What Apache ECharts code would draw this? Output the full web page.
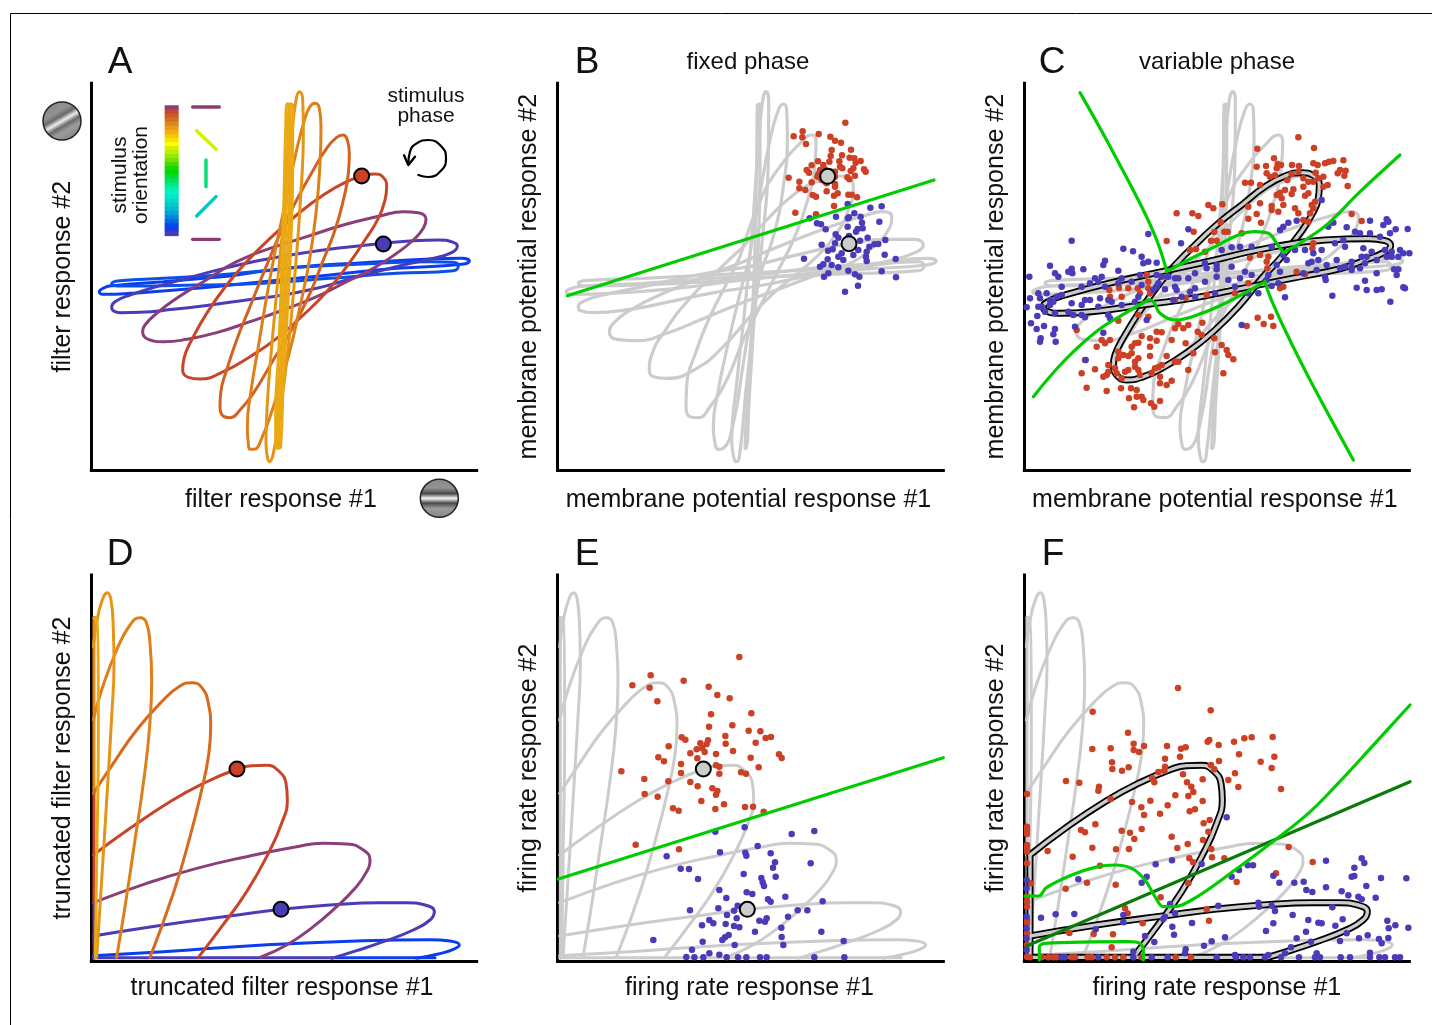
<!DOCTYPE html>
<html><head><meta charset="utf-8"><style>html,body{margin:0;padding:0;background:#fff}#c{width:1432px;height:1025px}</style>
<script src="https://cdn.jsdelivr.net/npm/echarts@6/dist/echarts.min.js"></script></head><body><div id="c"></div>
<script>
// ---- panel A: filter responses, one closed loop per stimulus orientation
const aBlue1=[[208,785],[225,772],[250,767],[400,755],[600,738],[800,712],[1000,698],[1200,687],[1295,685],[1318,693],[1295,703],[1100,715],[900,735],[700,755],[500,775],[300,790],[225,793]];
const aBlue2=[[245,760],[270,752],[400,745],[600,732],[800,712],[1000,702],[1200,695],[1270,697],[1285,708],[1270,722],[1100,730],[900,745],[700,760],[500,765],[300,768],[260,768]];
const aIndigo=[[245,832],[255,815],[300,795],[380,770],[470,745],[570,718],[680,693],[800,672],[920,655],[1060,640],[1150,632],[1225,630],[1270,637],[1282,648],[1265,668],[1200,687],[1120,705],[1030,728],[950,750],[860,775],[760,795],[650,810],[540,825],[430,838],[330,847],[270,848]];
const aPlum=[[338,905],[345,885],[380,850],[440,805],[520,755],[620,695],[720,655],[830,620],[940,585],[1050,558],[1120,545],[1165,548],[1188,568],[1180,595],[1150,630],[1100,670],[1030,715],[950,755],[860,800],[760,840],[660,875],[560,908],[470,928],[400,935],[355,928]];
const aRed=[[458,1020],[462,985],[485,930],[530,850],[590,765],[650,695],[720,625],[800,555],[880,495],[950,455],[995,440],[1035,432],[1058,440],[1070,470],[1065,510],[1045,565],[1005,630],[950,710],[890,785],[820,855],[740,925],[660,980],[580,1025],[510,1047],[475,1042]];
const aOrange1=[[570,1130],[572,1090],[590,1020],[620,930],[660,830],[700,730],[750,610],[800,510],[850,420],[890,355],[920,322],[940,315],[952,330],[958,370],[955,430],[940,510],[915,600],[880,690],[840,790],[790,890],[730,990],[670,1090],[630,1140],[600,1163],[582,1160]];
const aOrange2=[[655,1240],[652,1190],[665,1070],[685,950],[710,800],[740,640],[770,500],[800,360],[825,265],[840,230],[855,220],[868,235],[873,290],[870,400],[860,530],[840,680],[810,830],[775,980],[730,1130],[695,1225],[672,1258],[660,1258]];
const aOrange3=[[712,1280],[708,1240],[712,1120],[725,950],[745,730],[765,530],[785,320],[798,210],[808,185],[818,205],[820,300],[812,500],[795,730],[775,950],[750,1150],[730,1270],[718,1295]];
const aYellow=[[745,1255],[745,1150],[755,950],[762,750],[770,500],[775,300],[780,222],[788,225],[788,400],[782,650],[772,850],[760,1050],[752,1250]];
// ---- panel B/C: membrane potential loops (grey)
const bLoop1=[[168,785],[185,775],[220,768],[400,760],[600,745],[740,735],[900,715],[1100,700],[1255,685],[1278,693],[1250,705],[1050,718],[850,735],[700,750],[500,775],[300,790],[185,793]];
const bLoop2=[[205,760],[225,752],[400,745],[600,735],[800,725],[1000,715],[1225,695],[1243,708],[1225,722],[1000,732],[800,740],[600,755],[400,765],[225,768]];
const bLoop3=[[205,830],[225,812],[280,795],[400,770],[560,735],[720,710],[880,670],[1020,640],[1130,628],[1215,628],[1240,645],[1215,668],[1130,695],[1020,722],[900,738],[760,765],[600,790],[480,815],[360,838],[250,848],[212,842]];
const bLoop4=[[298,905],[310,880],[370,835],[460,790],[570,745],[700,695],[830,640],[960,590],[1060,558],[1120,545],[1145,560],[1135,600],[1090,650],[1020,700],[920,735],[800,780],[680,825],[570,870],[470,910],[380,932],[320,928]];
const bLoop5=[[418,1020],[425,975],[470,895],[540,805],[620,725],[700,650],[770,570],[850,495],[920,455],[985,438],[1020,445],[1030,480],[1015,540],[980,610],[920,680],[850,740],[790,790],[720,860],[640,950],[560,1015],[470,1045],[430,1040]];
const bLoop6=[[528,1130],[530,1070],[560,960],[600,860],[650,760],[690,680],[760,490],[810,410],[870,340],[905,315],[918,335],[915,400],[890,520],[850,630],[800,730],[750,830],[700,930],[650,1050],[600,1130],[565,1163],[540,1160]];
const bLoop7=[[615,1240],[610,1190],[625,1080],[650,960],[690,790],[715,700],[745,520],[780,330],[805,240],[820,222],[830,240],[832,320],[820,470],[790,620],[755,720],[725,850],[700,1000],[670,1180],[640,1255],[625,1258]];
const bLoop8=[[672,1285],[665,1230],[680,1060],[700,880],[725,620],[745,350],[758,210],[768,185],[776,210],[775,380],[755,650],[730,880],[708,1080],[688,1280],[678,1295]];
const bLoop9=[[705,1255],[712,1100],[725,900],[735,650],[740,400],[742,225],[750,222],[750,400],[745,650],[730,900],[718,1100],[708,1255]];
const bBoundary=[[172,797],[1272,450]];
const bRedDots=[[1006,278],[878,304],[851,319],[877,322],[926,312],[961,320],[975,332],[993,338],[888,342],[965,360],[1023,359],[962,378],[996,376],[1019,383],[1033,385],[1052,393],[1037,398],[988,394],[958,395],[924,394],[905,406],[890,420],[897,428],[990,410],[997,415],[1030,415],[1062,418],[1067,425],[1022,423],[1035,437],[1012,442],[1018,448],[836,443],[868,455],[922,440],[905,457],[935,450],[975,440],[950,460],[975,462],[868,475],[886,480],[950,484],[975,470],[983,490],[972,497],[908,495],[918,500],[1015,494],[1025,494],[1041,502],[972,528],[856,548],[918,553],[940,405],[930,420],[945,418],[965,425],[925,432],[975,425],[945,455]];
const bBlueDots=[[1013,522],[1081,533],[1115,529],[1033,550],[978,560],[1017,562],[1052,560],[1014,565],[1108,575],[899,565],[921,580],[933,583],[1056,578],[1013,590],[1058,595],[947,598],[1043,597],[1038,605],[977,613],[1073,623],[1126,630],[1017,618],[985,623],[935,644],[975,640],[1050,632],[1105,642],[1093,643],[1078,650],[968,658],[954,662],[1005,645],[1030,675],[1045,660],[1070,665],[1124,674],[1068,680],[1157,687],[882,686],[995,670],[985,680],[953,688],[1000,690],[1070,693],[940,703],[930,710],[965,705],[985,712],[1115,724],[1015,722],[955,730],[942,740],[1035,733],[1048,740],[1158,742],[1044,767],[1005,785]];
// ---- panel C
const cTube1=[[415,1005],[420,975],[450,915],[500,835],[550,765],[600,705],[660,645],[730,580],[800,525],[870,470],[930,438],[980,428],[1015,437],[1033,465],[1030,505],[1010,555],[975,610],[920,680],[860,745],[790,830],[720,900],[640,965],[560,1015],[500,1042],[455,1050],[425,1035]];
const cTube2=[[205,830],[225,812],[270,795],[400,760],[560,725],[720,690],[900,650],[1050,630],[1180,626],[1230,632],[1247,647],[1225,668],[1170,690],[1100,715],[950,745],[800,775],[650,805],[500,825],[350,845],[250,850],[212,842]];
const cGreen1a=[[315,188],[400,340],[500,530],[545,630],[575,722]];
const cGreen1b=[[575,725],[640,690],[720,650],[790,615],[840,605],[880,610],[905,640],[925,668]];
const cGreen1c=[[925,668],[990,630],[1060,580],[1150,490],[1275,375]];
const cGreen2a=[[175,1100],[270,990],[370,900],[450,850],[520,810]];
const cGreen2b=[[520,810],[535,815],[555,850],[600,870],[680,850],[770,810],[870,755]];
const cGreen2c=[[870,755],[885,800],[930,900],[1000,1040],[1135,1290]];
const cRedDots=[[970,322],[847,356],[1017,354],[897,385],[1105,391],[1075,393],[1062,395],[1050,400],[1015,400],[1028,405],[908,402],[918,405],[972,408],[951,405],[845,410],[873,408],[905,415],[1095,420],[1112,422],[1088,430],[1022,428],[970,425],[950,432],[875,430],[885,440],[900,436],[1108,437],[1045,440],[1030,445],[937,450],[985,445],[1000,455],[1015,455],[810,458],[828,458],[1058,465],[1118,468],[855,465],[1045,470],[985,470],[930,480],[955,478],[915,488],[950,492],[1000,490],[990,497],[1020,515],[905,495],[855,520],[920,505],[925,525],[1010,525],[700,525],[742,523],[890,528],[715,535],[1015,535],[890,540],[960,535],[820,530],[605,550],[652,550],[670,558],[845,552],[1005,550],[970,550],[1130,552],[910,545],[820,566],[858,578],[737,577],[985,570],[1160,573],[1000,575],[800,610],[656,605],[718,606],[748,605],[758,605],[575,633],[708,632],[725,632],[1015,640],[1012,655],[690,665],[645,660],[663,658],[855,675],[880,680],[875,695],[825,683],[877,715],[965,725],[990,732],[515,735],[575,740],[520,755],[820,760],[403,780],[432,773],[460,775],[488,775],[520,775],[495,790],[925,770],[915,775],[600,810],[632,803],[695,795],[780,790],[525,790],[440,800],[405,800],[490,855],[430,872],[520,860],[610,882],[640,885],[682,878],[848,863],[888,860],[866,882],[895,888],[815,888],[305,900],[545,905],[560,907],[600,895],[625,895],[668,905],[680,915],[500,918],[525,925],[480,940],[490,938],[545,932],[590,930],[718,925],[632,940],[740,945],[405,930],[380,930],[390,940],[365,950],[470,950],[525,950],[755,960],[720,967],[760,975],[430,965],[470,970],[655,970],[445,975],[460,978],[775,988],[575,978],[525,978],[490,985],[330,990],[480,995],[560,1005],[600,995],[610,995],[400,1005],[420,1015],[360,1018],[320,1030],[460,1020],[490,1020],[540,1015],[550,1012],[640,1020],[745,1030],[395,1035],[385,1040],[440,1045],[495,1035],[555,1040],[590,1052],[335,1073],[555,1060],[575,1065],[438,1075],[468,1075],[395,1083],[485,1080],[462,1105],[485,1100],[500,1100],[505,1110],[555,1113],[528,1120],[538,1130],[477,1132],[425,1030],[450,1025],[480,1010],[530,1030],[430,985],[400,1025]];
const cBlueDots=[[290,632],[445,656],[474,664],[520,612],[640,598],[618,640],[500,680],[390,692],[385,705],[325,718],[290,716],[280,725],[292,730],[225,707],[240,730],[250,740],[163,740],[380,740],[360,745],[370,755],[430,722],[505,700],[520,695],[545,698],[495,735],[600,745],[610,745],[640,745],[695,715],[725,705],[725,718],[770,710],[760,750],[830,735],[795,745],[810,725],[740,660],[770,652],[795,650],[830,650],[890,650],[915,600],[925,590],[940,578],[965,572],[1040,510],[1075,578],[1060,590],[1115,592],[1140,605],[1155,610],[1185,572],[1225,585],[1235,568],[1240,575],[1245,610],[1262,598],[1298,597],[1185,610],[1215,620],[1105,630],[1080,640],[1110,650],[1165,655],[1190,665],[1230,660],[1250,665],[1275,660],[1303,670],[1285,670],[1270,680],[1250,680],[1235,680],[1175,680],[1160,680],[1130,695],[1110,710],[1095,715],[1055,705],[1030,690],[1010,695],[990,660],[960,660],[925,675],[935,690],[905,705],[915,725],[880,735],[890,768],[930,802],[1050,740],[1052,750],[1072,797],[1145,773],[1170,752],[1175,780],[1205,780],[1220,778],[1246,815],[1285,772],[1290,775],[1257,718],[1270,718],[1265,735],[1205,730],[1155,715],[1130,720],[1025,720],[985,730],[1000,700],[155,832],[165,805],[190,790],[195,805],[215,790],[245,800],[260,795],[225,810],[235,815],[190,830],[200,830],[210,845],[225,825],[240,850],[187,858],[168,880],[185,897],[207,888],[240,897],[235,913],[197,925],[195,935],[242,935],[300,890],[295,855],[320,855],[330,862],[320,825],[290,820],[280,845],[330,810],[345,810],[375,805],[370,830],[400,810],[410,815],[440,825],[400,855],[405,865],[260,770],[320,770],[345,760],[390,770],[430,760],[440,745],[470,755],[500,765],[545,735],[560,740],[580,740],[600,770],[605,780],[645,785],[660,775],[570,778],[545,770],[535,780],[550,760],[595,810],[620,800],[660,800],[490,800],[480,815],[385,908],[332,990],[515,870],[800,885],[690,755],[720,790],[780,770],[820,790],[875,750],[850,790],[910,760],[690,700],[725,740],[660,730],[1085,690],[1130,712],[1170,700],[1205,690],[1015,670],[1040,660]];
// ---- panel D: truncated responses, open arcs from axis to axis
const dBlue=[[190,1277],[400,1265],[700,1245],[1000,1232],[1200,1229],[1260,1233],[1288,1245],[1270,1258],[1225,1272],[1160,1285]];
const dIndigo=[[190,1218],[400,1185],[600,1158],[753,1138],[900,1125],[1050,1118],[1130,1118],[1185,1125],[1213,1145],[1200,1170],[1150,1200],[1060,1235],[980,1262],[905,1285]];
const dPlum=[[190,1118],[350,1060],[500,1015],[650,980],[800,950],[880,940],[950,942],[1000,960],[1020,990],[1010,1025],[975,1075],[920,1130],[850,1190],[770,1245],[690,1282]];
const dRed=[[190,975],[300,895],[420,815],[520,760],[621,717],[665,707],[710,706],[745,722],[768,760],[772,810],[755,880],[715,970],[650,1085],[575,1190],[505,1282]];
const dOrange1=[[190,790],[250,700],[320,600],[400,510],[450,468],[485,458],[515,472],[535,520],[542,590],[535,680],[515,780],[480,920],[430,1090],[360,1282]];
const dOrange2=[[190,570],[215,480],[260,360],[300,285],[330,263],[348,275],[360,340],[365,450],[358,600],[340,760],[315,930],[285,1130],[260,1282]];
const dOrange3=[[190,350],[200,280],[215,215],[232,188],[243,210],[250,300],[252,400],[245,560],[232,780],[215,1050],[200,1282]];
const dYellow=[[192,265],[198,262],[205,600],[200,1000],[196,1282]];
const dBottomIndigo=[[190,1283],[905,1283]];
const dBottomBlue=[[905,1283],[1215,1283]];
const dLeftOrange=[[192,262],[192,790]];
const dLeftRed=[[192,790],[192,1118]];
const dLeftPlum=[[192,1118],[192,1285]];
// ---- panel E
const eBoundary=[[145,1047],[1300,683]];
const eRedDots=[[688,381],[422,436],[367,466],[419,473],[521,452],[596,470],[622,495],[659,505],[442,514],[724,550],[603,553],[667,586],[597,590],[716,602],[751,604],[646,618],[783,621],[767,624],[515,622],[526,629],[594,631],[571,640],[590,642],[647,641],[737,638],[476,649],[560,658],[577,654],[584,666],[669,663],[541,670],[618,672],[807,673],[815,684],[445,682],[722,683],[462,694],[562,685],[513,702],[618,706],[628,710],[746,712],[334,724],[513,729],[628,731],[693,727],[708,731],[403,747],[475,754],[541,756],[563,769],[607,775],[622,783],[618,794],[404,792],[443,800],[574,813],[642,823],[705,831],[729,830],[489,835],[506,842],[616,837],[761,845],[377,944],[507,958]];
const eBlueDots=[[704,892],[913,903],[616,905],[845,912],[743,948],[630,967],[706,968],[709,977],[782,970],[470,979],[795,997],[902,1000],[789,1013],[512,1016],[537,1017],[701,1032],[797,1040],[564,1047],[754,1044],[758,1057],[762,1068],[628,1080],[710,1087],[727,1092],[649,1104],[826,1100],[774,1108],[782,1115],[938,1114],[625,1135],[540,1141],[683,1127],[672,1142],[863,1141],[892,1141],[651,1155],[680,1165],[834,1160],[748,1172],[770,1165],[765,1175],[598,1170],[610,1180],[647,1182],[576,1186],[672,1188],[688,1192],[814,1193],[735,1205],[934,1205],[656,1215],[645,1222],[637,1230],[815,1221],[578,1235],[430,1230],[1001,1233],[674,1245],[820,1245],[546,1259],[598,1270],[628,1274],[529,1281],[553,1282],[580,1282],[650,1282],[684,1282],[709,1282],[750,1282],[770,1282],[913,1282],[1003,1282]];
// ---- panel F
const fLinear=[[155,1248],[1305,755]];
const fGreenUpper=[[1305,525],[1200,640],[1080,770],[1000,850],[900,930],[780,1020],[650,1110],[590,1130],[565,1130],[540,1100],[510,1050],[470,1015],[420,1005],[360,1012],[290,1035],[215,1072],[190,1098],[150,1098]];
const fGreenLower=[[193,1290],[193,1250],[210,1240],[460,1235],[495,1240],[505,1260],[505,1290]];
const fEdge2=[[165,1282],[880,1282]];
const fEdge3=[[165,975],[165,1282]];
const fRedDots=[[609,474],[707,541],[353,545],[459,608],[893,621],[830,622],[808,625],[703,630],[698,635],[777,635],[476,641],[507,648],[731,645],[576,648],[632,652],[618,656],[352,657],[407,655],[476,660],[492,666],[615,680],[570,686],[898,680],[792,673],[732,693],[857,695],[411,697],[708,705],[890,714],[412,717],[441,722],[461,712],[570,710],[718,718],[550,726],[568,722],[624,733],[780,730],[273,753],[313,758],[532,745],[538,757],[760,750],[683,748],[636,757],[372,770],[370,782],[649,770],[918,777],[790,771],[156,792],[655,786],[640,798],[601,796],[407,807],[526,812],[471,816],[683,813],[499,832],[578,826],[660,838],[644,844],[555,851],[507,855],[704,870],[686,880],[361,883],[156,890],[156,900],[318,900],[330,907],[440,902],[465,908],[500,897],[700,905],[156,912],[590,920],[478,927],[684,930],[638,942],[607,954],[352,953],[462,957],[423,958],[709,957],[156,945],[156,955],[156,965],[218,963],[293,980],[643,985],[711,982],[748,985],[941,951],[1013,996],[654,997],[156,1000],[375,1007],[903,1030],[785,1056],[336,1058],[422,1064],[640,1060],[168,1060],[272,1076],[156,1100],[156,1115],[156,1130],[557,1102],[450,1135],[458,1150],[695,1138],[702,1172],[503,1180],[156,1170],[156,1180],[283,1209],[356,1212],[414,1213],[410,1252],[156,1210],[156,1245],[156,1280],[165,1282],[200,1282],[220,1282],[235,1282],[245,1282],[290,1282],[300,1282],[338,1282],[350,1282],[395,1282],[420,1282],[445,1282],[500,1282],[602,1282],[648,1282]];
const fBlueDots=[[755,862],[1160,985],[1168,999],[1053,992],[542,1003],[591,991],[680,1002],[792,1020],[818,1006],[834,1006],[1138,1013],[1130,1040],[1138,1038],[895,1037],[770,1040],[1218,1044],[1294,1045],[310,1048],[515,1040],[500,1058],[913,1058],[958,1058],[986,1055],[155,1050],[155,1075],[1174,1068],[1053,1072],[994,1080],[1012,1086],[1100,1084],[1120,1096],[1150,1100],[1202,1103],[1160,1108],[850,1118],[585,1122],[730,1127],[890,1127],[852,1130],[1072,1132],[900,1143],[445,1155],[600,1150],[198,1163],[242,1153],[298,1152],[570,1160],[565,1167],[953,1155],[1000,1170],[1103,1168],[1030,1178],[1040,1180],[1237,1172],[651,1179],[895,1180],[445,1177],[592,1190],[1081,1187],[1241,1195],[1261,1186],[1300,1193],[362,1198],[873,1203],[993,1205],[597,1214],[1115,1210],[1178,1216],[510,1218],[750,1222],[965,1225],[1152,1225],[1240,1224],[1212,1227],[1008,1235],[1095,1233],[538,1236],[710,1234],[1220,1240],[687,1247],[632,1258],[948,1252],[630,1270],[1185,1268],[155,1160],[155,1195],[155,1225],[155,1260],[260,1282],[270,1282],[370,1282],[475,1265],[475,1282],[530,1282],[578,1282],[725,1282],[780,1275],[783,1282],[805,1282],[825,1282],[870,1282],[880,1275],[918,1282],[930,1270],[972,1282],[1020,1282],[1025,1270],[1035,1282],[1097,1282],[1125,1282],[1185,1282],[1213,1282],[1230,1282],[1260,1282],[1275,1282]];
// ---- inset key in panel A
const barColors=['#8a3f74','#c8452a','#cc5a26','#d27026','#dd8620','#e89a18','#eeb010','#f4c808','#fae000','#ffff00','#d8f000','#b8ee00','#98e800','#70e000','#40d800','#10d800','#00d800','#00dc30','#00e060','#00e888','#00f0b0','#00f0c8','#00e8c8','#00d8c8','#00c8c8','#00b8d0','#00a0d8','#0088e0','#0068e8','#0048f0','#2038e0','#4a3cb8'];
const keyBars=[{c:'#8a3f74',p:[[488,231],[568,231]]},{c:'#d4f000',p:[[500,302],[558,358]]},{c:'#00e070',p:[[528,390],[528,470]]},{c:'#00c8c8',p:[[558,500],[500,558]]},{c:'#8a3f74',p:[[488,628],[568,628]]}];
const phaseArc=[[1135,402],[1140,365],[1160,340],[1195,330],[1235,350],[1248,385],[1235,420],[1195,441],[1165,435]];
const phaseHead=[[1122,376],[1135,405],[1155,380]];

const RED='#cc4125',BLUE='#4a3cb8',GREY='#cccccc',GREEN='#00cc00';
const panels=[
 {ox:30,oy:30,x0:184,x1:1340,y0:160,y1:1320,xn:'filter response #1',yn:'filter response #2',xg:18,yg:16,xp:6},
 {ox:510,oy:30,x0:143,x1:1300,y0:160,y1:1320,xn:'membrane potential response #1',yn:'membrane potential response #2',xg:18,yg:16,xp:4},
 {ox:975,oy:30,x0:148,x1:1303,y0:160,y1:1320,xn:'membrane potential response #1',yn:'membrane potential response #2',xg:18,yg:16,xp:4},
 {ox:30,oy:530,x0:184,x1:1340,y0:135,y1:1293,xn:'truncated filter response #1',yn:'truncated filter response #2',xg:15,yg:16,xp:4},
 {ox:510,oy:530,x0:143,x1:1300,y0:135,y1:1293,xn:'firing rate response #1',yn:'firing rate response #2',xg:15,yg:16,xp:2},
 {ox:975,oy:530,x0:148,x1:1303,y0:135,y1:1293,xn:'firing rate response #1',yn:'firing rate response #2',xg:15,yg:16,xp:0}
];
const FONT='"Liberation Sans",Arial,sans-serif';
const axisLine={show:true,onZero:false,lineStyle:{color:'#000',width:3,cap:'square'}};
const grid=panels.map(p=>({left:p.ox+p.x0/3,top:p.oy+p.y0/3,width:(p.x1-p.x0)/3,height:(p.y1-p.y0)/3,containLabel:false}));
const xAxis=panels.map((p,i)=>({type:'value',gridIndex:i,min:p.x0,max:p.x1,position:'bottom',axisLine,axisTick:{show:false},axisLabel:{show:false},splitLine:{show:false},name:p.xn,nameLocation:'middle',nameGap:p.xg,nameTextStyle:{fontFamily:FONT,fontSize:25,color:'#111',verticalAlign:'top',padding:[0,p.xp,0,0]}}));
const yAxis=panels.map((p,i)=>({type:'value',gridIndex:i,inverse:true,min:p.y0,max:p.y1,position:'left',axisLine,axisTick:{show:false},axisLabel:{show:false},splitLine:{show:false},name:p.yn,nameLocation:'middle',nameGap:p.yg,nameTextStyle:{fontFamily:FONT,fontSize:25,color:'#111',verticalAlign:'bottom'}}));

const series=[];
const closed=a=>{const k=Math.floor(a.length/4);const r=a.slice(k).concat(a.slice(0,k));r.push(r[0]);return r;};
const shift=(a,dx)=>a.map(([x,y])=>[x+dx,y]);
const startAt=(a,x)=>[[x,a[0][1]],...a.slice(1)];
function line(g,data,color,width,smooth=0.5,z=3){series.push({type:'line',xAxisIndex:g,yAxisIndex:g,data,smooth,symbol:'none',silent:true,clip:false,z,lineStyle:{color,width,cap:'round',join:'round'},animation:false});}
function dots(g,data,color,size=6.5,z=4){series.push({type:'scatter',xAxisIndex:g,yAxisIndex:g,data,symbol:'circle',symbolSize:size,silent:true,clip:false,z,itemStyle:{color,opacity:1},animation:false});}
function big(g,pt,color){series.push({type:'scatter',xAxisIndex:g,yAxisIndex:g,data:[pt],symbol:'circle',symbolSize:15,silent:true,clip:false,z:7,itemStyle:{color,borderColor:'#000',borderWidth:2,opacity:1},animation:false});}
function gabor(pt,x,y,x2,y2,d,l){series.push({type:'scatter',xAxisIndex:0,yAxisIndex:0,data:[pt],symbol:'circle',symbolSize:38,silent:true,clip:false,z:3,itemStyle:{opacity:1,borderColor:'#222',borderWidth:1.5,color:{type:'linear',x,y,x2,y2,colorStops:[{offset:0,color:'#8a8a8a'},{offset:.24,color:'#929292'},{offset:.38,color:d},{offset:.5,color:l},{offset:.62,color:d},{offset:.76,color:'#9c9c9c'},{offset:1,color:'#868686'}]}},animation:false});}

// A
[[aBlue1,'#0a3cf0'],[aBlue2,'#0c50e6'],[aIndigo,'#4a3cb8'],[aPlum,'#8a3f78'],[aRed,'#c8452a'],[aOrange1,'#d2621f'],[aOrange2,'#df7f1a'],[aOrange3,'#e59416'],[aYellow,'#eaa812']].forEach(([d,c])=>line(0,closed(d),c,3));
line(0,closed(shift(aYellow,-8)),'#eaa812',3);
big(0,[995,438],RED);big(0,[1060,642],BLUE);
series.push({type:'scatter',xAxisIndex:0,yAxisIndex:0,data:barColors.map((c,i)=>({value:[425,233+i*12.2],itemStyle:{color:c,opacity:1}})),symbol:'rect',symbolSize:[14,4.8],silent:true,clip:false,z:3,animation:false});
keyBars.forEach(k=>line(0,k.p,k.c,3.4,false));
line(0,phaseArc,'#000',2.2,0.5);line(0,phaseHead,'#000',2.4,false);
gabor([96,273],0.25,0.07,0.75,0.93,'#6a6a6a','#ececec');gabor([1228,1405],0,0,0,1,'#4a4a4a','#f4f4f4');
// B and C grey loops
const bLoops=[bLoop1,bLoop2,bLoop3,bLoop4,bLoop5,bLoop6,bLoop7,bLoop8,bLoop9];
bLoops.forEach(d=>line(1,closed(d),GREY,3.2));
dots(1,bRedDots,RED);dots(1,bBlueDots,BLUE);
line(1,bBoundary,GREEN,3.2,false,5);
big(1,[953,439],GREY);big(1,[1017,641],GREY);
bLoops.forEach(d=>line(2,closed(shift(d,5)),GREY,3.2));
[cTube1,cTube2].forEach(d=>{line(2,closed(d),'#000',7,0.5,3);line(2,closed(d),GREY,3.4,0.5,3);});
dots(2,cRedDots,RED);dots(2,cBlueDots,BLUE);
[cGreen1a,cGreen1b,cGreen1c,cGreen2a,cGreen2b,cGreen2c].forEach(d=>line(2,d,GREEN,3.2,0.4,5));
// D
const dArcs=[dBlue,dIndigo,dPlum,dRed,dOrange1,dOrange2,dOrange3,dYellow];
const dColors=['#0a3cf0','#4a3cb8','#8a3f78','#c8452a','#d8691e','#df7f1a','#e59416','#eaa812'];
[[dBottomBlue,'#0a3cf0'],[dBottomIndigo,'#4a3cb8'],[dLeftOrange,'#e08a1a'],[dLeftRed,'#c8452a'],[dLeftPlum,'#6a3c98']].forEach(([d,c])=>line(3,d,c,3,false));
dArcs.forEach((d,i)=>line(3,d,dColors[i],3));
big(3,[621,717],RED);big(3,[753,1138],BLUE);
// E
const grayD=(g,dx)=>{dArcs.forEach(d=>line(g,shift(d,dx),GREY,3));[dBottomBlue,dBottomIndigo,dLeftOrange,dLeftRed,dLeftPlum].forEach(d=>line(g,shift(d,dx),GREY,3,false));};
grayD(4,-41);
dots(4,eRedDots,RED);dots(4,eBlueDots,BLUE);
line(4,eBoundary,GREEN,3.2,false,5);
big(4,[580,717],GREY);big(4,[712,1138],GREY);
// F
grayD(5,-36);
const fTubes=[[startAt(shift(dRed,-30),165),0.5],[startAt(shift(dIndigo,-36),165),0.5],[fEdge2,false],[fEdge3,false]];
fTubes.forEach(([d,s])=>line(5,d,'#000',7,s));
fTubes.forEach(([d,s])=>line(5,d,GREY,3.4,s));
dots(5,fRedDots,RED);dots(5,fBlueDots,BLUE);
line(5,fLinear,'#0a7a0a',3.2,false,5);
line(5,fGreenUpper,GREEN,3.2,0.4,5);line(5,fGreenLower,GREEN,3.2,0.3,5);

const T=(text,x,y,size,rot)=>({type:'text',x,y,rotation:rot||0,silent:true,z:20,style:{text,x:0,y:0,fill:'#111',font:size+'px '+FONT,textAlign:'center',textVerticalAlign:'middle'}});
const graphic=[
 {type:'line',silent:true,shape:{x1:10.5,y1:13.5,x2:1432,y2:13.5},style:{stroke:'#000',lineWidth:1}},
 {type:'line',silent:true,shape:{x1:10.5,y1:13.5,x2:10.5,y2:1025},style:{stroke:'#000',lineWidth:1}},
 T('A',120,63,37),T('B',587,63,37),T('C',1052,63,37),T('D',120,555,37),T('E',587,555,37),T('F',1053,555,37),
 T('fixed phase',748,62,24),T('variable phase',1217,62,24),
 T('stimulus',426,96,21),T('phase',426,116,21),
 T('stimulus',120,175,21,Math.PI/2),T('orientation',141,175,21,Math.PI/2)
];
echarts.init(document.getElementById('c'),null,{renderer:'canvas'}).setOption({backgroundColor:'#fff',animation:false,grid,xAxis,yAxis,series,graphic});
</script></body></html>
